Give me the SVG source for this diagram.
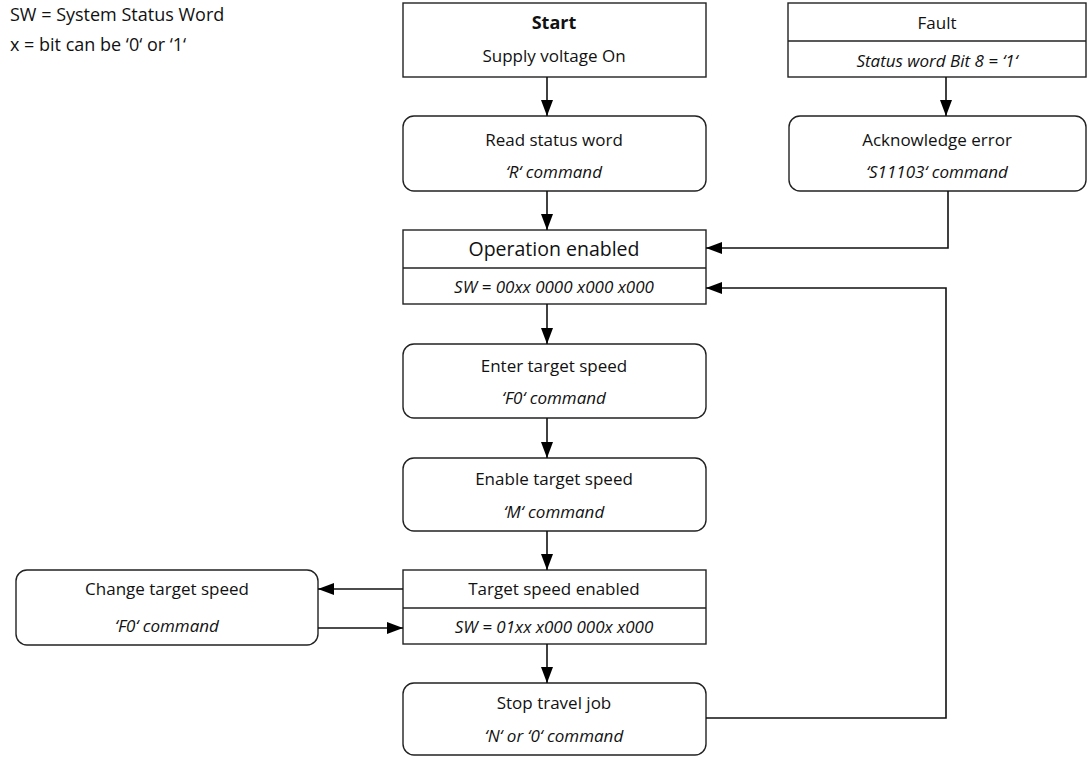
<svg xmlns="http://www.w3.org/2000/svg" width="1088" height="758" viewBox="0 0 1088 758">
<defs>
<marker id="ah" markerWidth="16" markerHeight="12" viewBox="0 0 16 12" refX="16" refY="6" markerUnits="userSpaceOnUse" orient="auto">
<path d="M0,0 L16,6 L0,12 Z" fill="#000"/>
</marker>
<style>
.box{fill:#fff;stroke:#222;stroke-width:1.4}
.t{font-family:"Open Sans","Noto Sans",sans-serif;font-size:17px;fill:#111;text-anchor:middle}
.i{font-style:italic}
.b{font-weight:bold;font-size:18px}
.big{font-size:19.5px}
.l{text-anchor:start;font-size:18px}
.c{fill:none;stroke:#111;stroke-width:1.6}
</style>
</defs>
<rect width="1088" height="758" fill="#fff"/>
<g id="legend">
<text class="t l" x="10" y="21">SW = System Status Word</text>
<text class="t l" x="10" y="51">x = bit can be ‘0‘ or ‘1‘</text>
</g>
<g id="start">
<rect class="box" x="403" y="3" width="303" height="74"/>
<text class="t b" x="554" y="29">Start</text>
<text class="t" x="554" y="62">Supply voltage On</text>
</g>
<g id="fault">
<rect class="box" x="788" y="3" width="298" height="74"/>
<line class="box" x1="788" y1="41" x2="1086" y2="41"/>
<text class="t" x="937" y="29">Fault</text>
<text class="t i" x="937" y="67">Status word Bit 8 = ‘1‘</text>
</g>
<g id="read">
<rect class="box" x="403" y="116" width="303" height="75" rx="11"/>
<text class="t" x="554" y="146">Read status word</text>
<text class="t i" x="554" y="178">‘R‘ command</text>
</g>
<g id="ack">
<rect class="box" x="789" y="116" width="297" height="75" rx="11"/>
<text class="t" x="937" y="146">Acknowledge error</text>
<text class="t i" x="937" y="178">‘S11103‘ command</text>
</g>
<g id="operation">
<rect class="box" x="403" y="230" width="303" height="74"/>
<line class="box" x1="403" y1="268" x2="706" y2="268"/>
<text class="t big" x="554" y="256">Operation enabled</text>
<text class="t i" x="554" y="293">SW = 00xx 0000 x000 x000</text>
</g>
<g id="enter">
<rect class="box" x="403" y="344" width="303" height="74" rx="11"/>
<text class="t" x="554" y="372">Enter target speed</text>
<text class="t i" x="554" y="404">‘F0‘ command</text>
</g>
<g id="enable">
<rect class="box" x="403" y="458" width="303" height="73" rx="11"/>
<text class="t" x="554" y="485">Enable target speed</text>
<text class="t i" x="554" y="518">‘M‘ command</text>
</g>
<g id="targetenabled">
<rect class="box" x="403" y="570" width="303" height="74"/>
<line class="box" x1="403" y1="608" x2="706" y2="608"/>
<text class="t" x="554" y="595">Target speed enabled</text>
<text class="t i" x="554" y="633">SW = 01xx x000 000x x000</text>
</g>
<g id="change">
<rect class="box" x="16" y="570" width="302" height="75" rx="11"/>
<text class="t" x="167" y="595">Change target speed</text>
<text class="t i" x="167" y="632">‘F0‘ command</text>
</g>
<g id="stop">
<rect class="box" x="403" y="683" width="303" height="72" rx="11"/>
<text class="t" x="554" y="709">Stop travel job</text>
<text class="t i" x="554" y="742">‘N‘ or ‘0‘ command</text>
</g>
<g id="connectors">
<line class="c" x1="547" y1="77" x2="547" y2="116" marker-end="url(#ah)"/>
<line class="c" x1="946" y1="77" x2="946" y2="116" marker-end="url(#ah)"/>
<line class="c" x1="547" y1="191" x2="547" y2="230" marker-end="url(#ah)"/>
<polyline class="c" points="948,191 948,248 706,248" marker-end="url(#ah)"/>
<polyline class="c" points="706,718 946,718 946,288 706,288" marker-end="url(#ah)"/>
<line class="c" x1="547" y1="304" x2="547" y2="344" marker-end="url(#ah)"/>
<line class="c" x1="547" y1="418" x2="547" y2="458" marker-end="url(#ah)"/>
<line class="c" x1="547" y1="531" x2="547" y2="570" marker-end="url(#ah)"/>
<line class="c" x1="403" y1="589" x2="318" y2="589" marker-end="url(#ah)"/>
<line class="c" x1="318" y1="628" x2="403" y2="628" marker-end="url(#ah)"/>
<line class="c" x1="547" y1="644" x2="547" y2="683" marker-end="url(#ah)"/>
</g>
</svg>
